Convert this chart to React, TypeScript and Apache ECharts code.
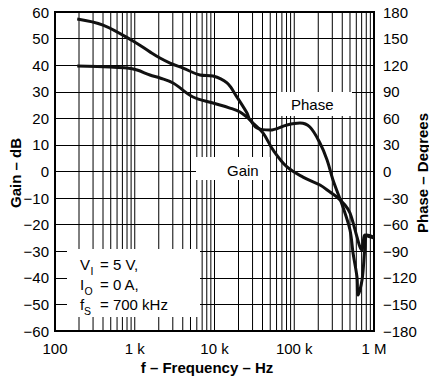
import React, { useEffect, useRef } from 'react';
import * as echarts from 'echarts';

const freqTicks = [100, 1000, 10000, 100000, 1000000];
const freqTickLabels = ['100', '1 k', '10 k', '100 k', '1 M'];

const gridFreqs = [
  200, 300, 400, 500, 600, 700, 800, 900,
  1000, 2000, 3000, 4000, 5000, 6000, 7000, 8000, 9000,
  10000, 20000, 30000, 40000, 50000, 60000, 70000, 80000, 90000,
  100000, 200000, 300000, 400000, 500000, 600000, 700000, 800000, 900000,
];

const gainData = [
  [190, 57.4], [400, 55.1], [950, 49.1], [1550, 45.0], [2070, 42.7], [2770, 40.8],
  [4030, 38.9], [6580, 36.3], [9570, 35.9], [14350, 33.3], [19140, 28.0], [25570, 22.0],
  [27900, 19.4], [40500, 14.5], [54200, 8.1], [81100, 1.7], [128800, -2.1], [210400, -5.1],
  [280600, -7.7], [343600, -9.6], [432500, -12.6], [500000, -15.6], [612000, -24.6],
  [667000, -28.4], [708000, -29.5], [771000, -23.9], [891000, -24.6], [1000000, -25.0],
];

const phaseData = [
  [190, 119.1], [490, 117.9], [800, 116.8], [1070, 114.5], [1550, 108.9], [2070, 105.5],
  [3020, 99.9], [5370, 84.1], [9570, 77.3], [15600, 71.6], [20900, 67.1], [27900, 58.1],
  [34100, 49.1], [49700, 46.8], [81100, 52.5], [118000, 54.7], [157000, 50.2], [210000, 32.1],
  [258000, 13.0], [306000, -9.6], [408000, -40.1], [500000, -66.0], [546000, -92.0],
  [612000, -119.1], [630000, -139.4], [708000, -122.5], [771000, -85.2], [817000, -71.7],
  [1000000, -74.0],
];

const FONT = 'Liberation Sans, Arial, Helvetica, sans-serif';

const fmtNeg = (v: number) => (v < 0 ? '\u2212' + Math.abs(v) : String(v));

export default function App() {
  const ref = useRef<HTMLDivElement>(null);
  useEffect(() => {
    const chart = echarts.init(ref.current!, undefined, { renderer: 'svg' });
    const txt = (text: string, x: number, y: number, size: number, extra: any = {}) => ({
      type: 'text',
      x,
      y,
      z: 101,
      style: {
        text,
        fill: '#000',
        font: `${extra.bold ? 'bold ' : ''}${size}px ${FONT}`,
        textAlign: extra.align || 'left',
        textVerticalAlign: 'middle',
      },
      rotation: extra.rotation || 0,
    });
    chart.setOption({
      animation: false,
      backgroundColor: '#fff',
      textStyle: { fontFamily: FONT },
      grid: {
        left: 55, right: 55, top: 12, bottom: 45,
        show: true, borderColor: '#000', borderWidth: 2, backgroundColor: 'transparent',
      },
      xAxis: {
        type: 'log',
        logBase: 10,
        min: 100,
        max: 1000000,
        axisLine: { show: true, onZero: false, lineStyle: { color: '#000', width: 2 } },
        axisTick: { show: false },
        splitLine: { show: false },
        axisLabel: {
          color: '#000', fontSize: 15, margin: 10, showMinLabel: true, showMaxLabel: true,
          formatter: (v: number) => {
            const i = freqTicks.findIndex((t) => Math.abs(Math.log10(t) - Math.log10(v)) < 1e-6);
            return i >= 0 ? freqTickLabels[i] : '';
          },
        },
      },
      yAxis: [
        {
          type: 'value', min: -60, max: 60, interval: 10, position: 'left',
          axisLine: { show: true, onZero: false, lineStyle: { color: '#000', width: 2 } },
          axisTick: { show: false },
          splitLine: { show: true, lineStyle: { color: '#000', width: 1 } },
          axisLabel: { color: '#000', fontSize: 15, margin: 6, formatter: fmtNeg },
        },
        {
          type: 'value', min: -180, max: 180, interval: 30, position: 'right',
          axisLine: { show: true, onZero: false, lineStyle: { color: '#000', width: 2 } },
          axisTick: { show: false },
          splitLine: { show: false },
          axisLabel: { color: '#000', fontSize: 15, margin: 9, formatter: fmtNeg },
        },
      ],
      series: [
        {
          name: 'grid', type: 'custom', yAxisIndex: 0, z: 1, silent: true,
          data: gridFreqs.map((f) => [f, 0]),
          encode: { x: 0, y: 1 },
          renderItem: (params: any, api: any) => {
            const x = api.coord([api.value(0), 0])[0];
            const cs = params.coordSys;
            return {
              type: 'line',
              shape: { x1: x, y1: cs.y, x2: x, y2: cs.y + cs.height },
              style: { stroke: '#000', lineWidth: 1 },
            };
          },
        },
        {
          name: 'Gain', type: 'line', yAxisIndex: 0, data: gainData,
          showSymbol: false, smooth: 0.35,
          lineStyle: { color: '#111', width: 3 }, z: 5,
        },
        {
          name: 'Phase', type: 'line', yAxisIndex: 1, data: phaseData,
          showSymbol: false, smooth: 0.35,
          lineStyle: { color: '#111', width: 3 }, z: 5,
        },
      ],
      graphic: [
        { type: 'rect', z: 100, shape: { x: 67, y: 249, width: 133, height: 68 }, style: { fill: '#fff' } },
        { type: 'rect', z: 100, shape: { x: 277, y: 92, width: 75, height: 24 }, style: { fill: '#fff' } },
        { type: 'rect', z: 100, shape: { x: 196, y: 157, width: 74, height: 23 }, style: { fill: '#fff' } },
        txt('Phase', 291, 104, 15),
        txt('Gain', 227, 170, 15),
        txt('V', 80, 264, 15), txt('I', 90.5, 271, 10.5), txt('= 5 V,', 100, 264, 15),
        txt('I', 80, 284, 15), txt('O', 84.5, 291, 10.5), txt('= 0 A,', 100, 284, 15),
        txt('f', 80, 304, 15), txt('S', 84, 311, 10.5), txt('= 700 kHz', 100, 304, 15),
        txt('f \u2013 Frequency \u2013 Hz', 207, 367, 15, { bold: true, align: 'center' }),
        txt('Gain \u2013 dB', 15, 173, 15, { bold: true, align: 'center', rotation: Math.PI / 2 }),
        txt('Phase \u2013 Degrees', 422, 173, 15, { bold: true, align: 'center', rotation: Math.PI / 2 }),
      ],
    });
    return () => chart.dispose();
  }, []);
  return (
    <div
      ref={ref}
      style={{ position: 'absolute', left: 0, top: 0, width: 429, height: 376, background: '#fff' }}
    />
  );
}
